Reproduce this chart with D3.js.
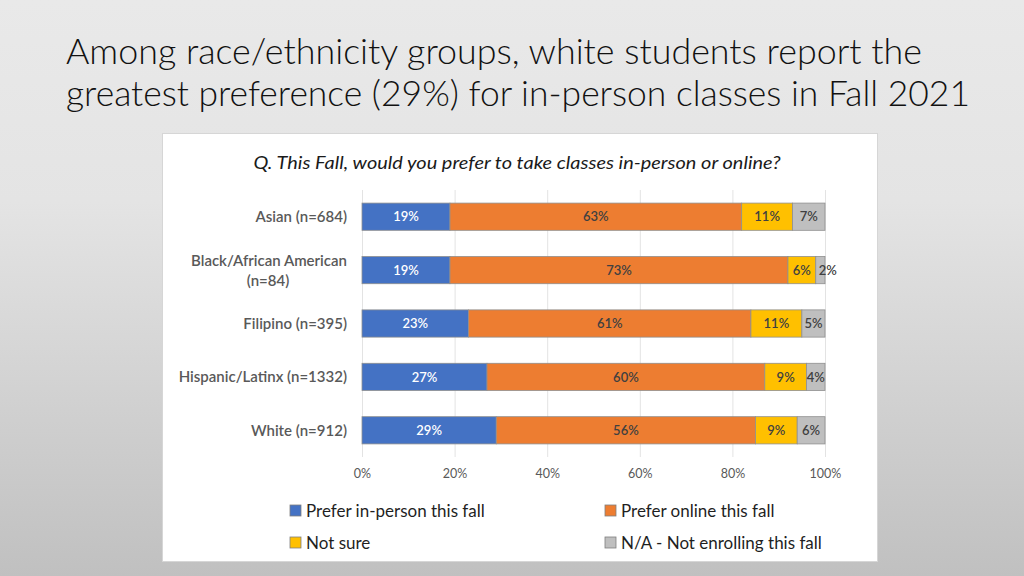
<!DOCTYPE html>
<html>
<head>
<meta charset="utf-8">
<script src="https://cdn.jsdelivr.net/npm/d3@7"></script>
<style>
html,body{margin:0;padding:0;}
body{width:1024px;height:576px;overflow:hidden;}
text{font-family:Lato,"Open Sans",sans-serif;}
</style>
</head>
<body>
<svg id="c" width="1024" height="576"></svg>
<script>
const categories = ["Asian (n=684)", "Black/African American\n(n=84)", "Filipino (n=395)", "Hispanic/Latinx (n=1332)", "White (n=912)"];
const seriesNames = ["Prefer in-person this fall", "Prefer online this fall", "Not sure", "N/A - Not enrolling this fall"];
const inPerson = [19, 19, 23, 27, 29];
const online = [63, 73, 61, 60, 56];
const notSure = [11, 6, 11, 9, 9];
const notEnrolling = [7, 2, 5, 4, 6];
const tickValues = [0, 20, 40, 60, 80, 100];
const colors = ["#4472C4", "#ED7D31", "#FFC000", "#BFBFBF"];
const titleLines = ["Among race/ethnicity groups, white students report the", "greatest preference (29%) for in-person classes in Fall 2021"];
const chartTitle = "Q. This Fall, would you prefer to take classes in-person or online?";

const svg = d3.select("#c");
const defs = svg.append("defs");
const grad = defs.append("linearGradient").attr("id","bg").attr("x1",0).attr("y1",0).attr("x2",0).attr("y2",1);
grad.append("stop").attr("offset","0").attr("stop-color","#e9e9e9");
grad.append("stop").attr("offset","0.35").attr("stop-color","#e4e4e4");
grad.append("stop").attr("offset","1").attr("stop-color","#c0c0c0");
svg.append("rect").attr("width",1024).attr("height",576).attr("fill","url(#bg)");

// Title
const tl = [{y:64,w:856},{y:106,w:904}];
svg.selectAll("text.title").data(titleLines).join("text").attr("class","title")
  .attr("x",66).attr("y",(d,i)=>tl[i].y)
  .attr("font-size",35).attr("font-weight",300).attr("fill","#111")
  .attr("textLength",(d,i)=>tl[i].w).attr("lengthAdjust","spacingAndGlyphs")
  .text(d=>d);

// Panel
svg.append("rect").attr("x",162.5).attr("y",133.5).attr("width",715).attr("height",428)
  .attr("fill","#fff").attr("stroke","#d6d6d6").attr("stroke-width",1);

svg.append("text").attr("x",517).attr("y",169).attr("text-anchor","middle")
  .attr("font-size",17.5).attr("font-style","italic").attr("fill","#1a1a1a")
  .attr("textLength",527).attr("lengthAdjust","spacingAndGlyphs").text(chartTitle);

const x = d3.scaleLinear().domain([0,100]).range([362,825]);
const y = d3.scaleBand().domain(categories).range([190,457]).paddingInner(0.49).paddingOuter(0.245);

// gridlines
svg.append("g").selectAll("line").data(tickValues).join("line")
  .attr("x1",d=>x(d)+0.5).attr("x2",d=>x(d)+0.5).attr("y1",190).attr("y2",457)
  .attr("stroke","#e3e3e3").attr("stroke-width",1);

// axis tick labels via d3 axis
const axis = d3.axisBottom(x).tickValues(tickValues).tickFormat(d=>d+"%").tickSize(0).tickPadding(0);
const ag = svg.append("g").attr("transform","translate(0,469)").call(axis);
ag.select(".domain").remove();
ag.selectAll("text").attr("font-size",12.5).attr("fill","#595959").attr("font-family","Lato,sans-serif").attr("dy","0.71em");

// stacked data
const rows = categories.map((c,i)=>({cat:c, v:[inPerson[i],online[i],notSure[i],notEnrolling[i]]}));
const segs = [];
rows.forEach(r=>{let cum=0; r.v.forEach((v,k)=>{segs.push({cat:r.cat,k,v,x0:cum,x1:cum+v}); cum+=v;});});

const bars = svg.append("g");
bars.selectAll("rect").data(segs).join("rect")
  .attr("x",d=>x(d.x0)).attr("width",d=>x(d.x1)-x(d.x0))
  .attr("y",d=>y(d.cat)).attr("height",y.bandwidth())
  .attr("fill",d=>colors[d.k]).attr("stroke","#8f8f8f").attr("stroke-width",0.8);

bars.selectAll("text").data(segs).join("text")
  .attr("x",d=> d.v<3 ? x(d.x0)+3 : (x(d.x0)+x(d.x1))/2)
  .attr("text-anchor",d=> d.v<3 ? "start":"middle")
  .attr("y",d=>y(d.cat)+y.bandwidth()/2).attr("dy","0.36em")
  .attr("font-size",13).attr("font-weight",600)
  .attr("fill",d=>d.k===0?"#ffffff":"#404040")
  .text(d=>d.v+"%");

// category labels
const cl = svg.append("g").selectAll("text").data(categories).join("text")
  .attr("x",347).attr("text-anchor","end")
  .attr("y",d=>y(d)+y.bandwidth()/2)
  .attr("font-size",15).attr("font-weight",600).attr("fill","#595959");
cl.each(function(d){
  const lines = d.split("\n");
  const t = d3.select(this);
  lines.forEach((ln,i)=>{
    t.append("tspan").attr("x", lines.length>1 && i===1 ? 268 : 347)
     .attr("text-anchor", lines.length>1 && i===1 ? "middle":"end")
     .attr("dy", i===0 ? (lines.length>1 ? "-0.3em" : "0.36em") : "1.35em").text(ln);
  });
});

// legend
const lp = [{x:290,y:505},{x:605,y:505},{x:290,y:537},{x:605,y:537}];
const lg = svg.append("g").selectAll("g").data(seriesNames).join("g")
  .attr("transform",(d,i)=>`translate(${lp[i].x},${lp[i].y})`);
lg.append("rect").attr("width",11).attr("height",11).attr("fill",(d,i)=>colors[i]).attr("stroke","#7f7f7f").attr("stroke-width",0.8);
lg.append("text").attr("x",16).attr("y",11.5).attr("font-size",17).attr("fill","#1f1f1f").text(d=>d);
</script>
</body>
</html>
